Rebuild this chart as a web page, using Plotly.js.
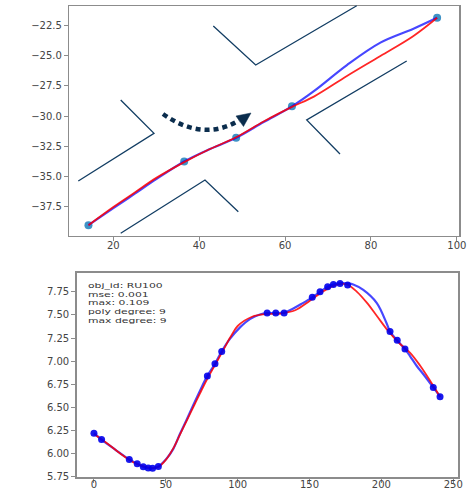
<!DOCTYPE html>
<html>
<head>
<meta charset="utf-8">
<script src="https://cdn.plot.ly/plotly-3.0.1.min.js"></script>
<style>html,body{margin:0;padding:0;background:#fff;}#chart{width:475px;height:490px;}</style>
</head>
<body>
<div id="chart"></div>
<script>
// ---- top panel data ----
const topPtsX = [14.2, 36.5, 48.6, 61.6, 95.4];
const topPtsY = [-39.0, -33.75, -31.8, -29.2, -21.9];
const topLineX = [14.2, 20, 25, 30, 36.5, 42, 48.6, 55, 61.6, 66.7, 74.4, 82.2, 89.9, 95.4];
const topBlueY = [-39.0, -37.6, -36.4, -35.2, -33.75, -32.8, -31.8, -30.5, -29.2, -27.95, -25.8, -23.95, -22.8, -21.9];
const topRedY  = [-39.0, -37.5, -36.3, -35.1, -33.8, -32.8, -31.75, -30.45, -29.25, -28.4, -26.7, -25.05, -23.4, -21.9];
const topXTicks = [20, 40, 60, 80, 100];
const topYTicks = [-37.5, -35.0, -32.5, -30.0, -27.5, -25.0, -22.5];

// ---- bottom panel data ----
const botPtsX = [0, 5.3, 24.6, 30.1, 34.3, 37.8, 40.8, 44.8, 78.9, 84.2, 88.9, 120.5, 126.5, 132.3, 151.9, 157.3, 162.6, 166.6, 171.2, 176.5, 206, 211, 216.4, 236.1, 240.8];
const botPtsY = [6.22, 6.15, 5.935, 5.89, 5.855, 5.843, 5.84, 5.86, 6.84, 6.97, 7.105, 7.52, 7.52, 7.52, 7.69, 7.75, 7.805, 7.83, 7.84, 7.825, 7.32, 7.225, 7.13, 6.715, 6.615];
const botBlueX = [0, 5.3, 15, 24.6, 30.1, 34.3, 37.8, 40.8, 44.8, 50.5, 55.2, 59.8, 64.5, 69, 73.8, 78.9, 84.2, 88.9, 94.6, 101.6, 108.5, 115.5, 120.5, 126.5, 132.3, 138.7, 145, 151.9, 157.3, 162.6, 166.6, 171.2, 176.5, 180.4, 187.4, 196.7, 203.6, 206, 211, 216.4, 219.9, 224.6, 229.2, 236.1, 240.8];
const botBlueY = [6.22, 6.15, 6.04, 5.935, 5.89, 5.855, 5.843, 5.84, 5.86, 5.944, 6.05, 6.21, 6.365, 6.52, 6.68, 6.84, 6.97, 7.105, 7.24, 7.365, 7.455, 7.505, 7.52, 7.52, 7.525, 7.57, 7.625, 7.69, 7.75, 7.805, 7.83, 7.845, 7.84, 7.83, 7.77, 7.63, 7.41, 7.32, 7.225, 7.13, 7.055, 6.947, 6.858, 6.715, 6.615];
const botRedX = [0, 10, 20, 30, 40, 45, 50, 55, 60, 65, 70, 75, 80, 85, 90, 95, 100, 110, 120, 130, 140, 150, 160, 170, 176, 183, 190, 197, 205, 212, 220, 227, 234, 241];
const botRedY = [6.21, 6.10, 5.98, 5.885, 5.845, 5.855, 5.93, 6.05, 6.21, 6.37, 6.53, 6.69, 6.84, 6.98, 7.12, 7.26, 7.38, 7.48, 7.51, 7.515, 7.55, 7.65, 7.76, 7.83, 7.83, 7.75, 7.63, 7.485, 7.32, 7.20, 7.09, 6.95, 6.785, 6.61];
const botXTicks = [0, 50, 100, 150, 200, 250];
const botYTicks = [5.75, 6.00, 6.25, 6.50, 6.75, 7.00, 7.25, 7.50, 7.75];
const infoLines = ["obj_id: RU100", "mse: 0.001", "max: 0.109", "poly degree: 9", "max degree: 9"];

const W = 475, H = 490;
const px = v => v / W;
const py = v => 1 - v / H;
const pt = (x, y) => px(x).toFixed(5) + ',' + py(y).toFixed(5);

const traces = [
  {x: topPtsX, y: topPtsY, xaxis: 'x', yaxis: 'y', mode: 'markers', type: 'scatter',
   marker: {color: '#2a86c0', size: 8, opacity: 0.9}},
  {x: topLineX, y: topBlueY, xaxis: 'x', yaxis: 'y', mode: 'lines', type: 'scatter',
   line: {color: 'rgba(0,0,255,0.72)', width: 2.2, shape: 'spline'}},
  {x: topLineX, y: topRedY, xaxis: 'x', yaxis: 'y', mode: 'lines', type: 'scatter',
   line: {color: 'rgba(255,0,0,0.85)', width: 1.8, shape: 'spline'}},
  {x: botBlueX, y: botBlueY, xaxis: 'x2', yaxis: 'y2', mode: 'lines', type: 'scatter',
   line: {color: 'rgba(0,0,255,0.72)', width: 2.2, shape: 'spline'}},
  {x: botRedX, y: botRedY, xaxis: 'x2', yaxis: 'y2', mode: 'lines', type: 'scatter',
   line: {color: 'rgba(255,0,0,0.85)', width: 1.8, shape: 'spline'}},
  {x: botPtsX, y: botPtsY, xaxis: 'x2', yaxis: 'y2', mode: 'markers', type: 'scatter',
   marker: {color: 'rgba(0,0,235,0.9)', size: 7}}
];

const tickFont = {family: 'DejaVu Sans', size: 10, color: '#444'};
const axBase = {showline: true, mirror: true, linecolor: '#8c8c8c', linewidth: 1.5,
  ticks: 'outside', ticklen: 4, tickcolor: '#8c8c8c', tickwidth: 1,
  showgrid: false, zeroline: false, tickfont: tickFont, automargin: false, fixedrange: true};

const navy = '#123d63';
const decoLines = [
  [[120.7,100],[154,133.3],[78.3,181]],
  [[120.7,233.3],[205,180],[238.3,211.7]],
  [[213.3,26],[255.7,65],[356.7,5.7]],
  [[406.7,61],[306.7,120],[340,154]]
];
const shapes = decoLines.map(l => ({
  type: 'path', xref: 'paper', yref: 'paper',
  path: 'M' + l.map(p => pt(p[0], p[1])).join(' L'),
  line: {color: navy, width: 1.3}
}));
shapes.push({type: 'path', xref: 'paper', yref: 'paper',
  path: 'M' + pt(163, 114) + ' Q' + pt(203, 142) + ' ' + pt(239, 120.5),
  line: {color: '#0b2d4d', width: 4.5, dash: '5px,4px'}});
shapes.push({type: 'path', xref: 'paper', yref: 'paper',
  path: 'M' + pt(251, 113) + ' L' + pt(236, 116) + ' L' + pt(243.5, 126.5) + ' Z',
  fillcolor: '#0b2d4d', line: {color: '#0b2d4d', width: 0.5}});

const infoFontSize = 10.8;
const annotations = [{
  text: infoLines.join('<br>'), xref: 'paper', yref: 'paper', x: px(85.5), y: py(280),
  xanchor: 'left', yanchor: 'top', align: 'left', showarrow: false,
  font: {family: 'DejaVu Sans', size: infoFontSize, color: '#333'}
}];

const layout = {
  width: W, height: H, margin: {l: 0, r: 0, t: 0, b: 0},
  paper_bgcolor: '#fff', plot_bgcolor: '#fff', showlegend: false,
  xaxis: Object.assign({}, axBase, {domain: [px(69.3), px(459)], range: [9.74, 100.5],
    anchor: 'y', tickvals: topXTicks, ticktext: topXTicks.map(String), ticklabelstandoff: -4}),
  yaxis: Object.assign({}, axBase, {domain: [py(235.5), py(6)], range: [-39.85, -20.93],
    anchor: 'x', tickvals: topYTicks, ticktext: topYTicks.map(v => (v < 0 ? '\u2212' : '') + Math.abs(v).toFixed(1))}),
  xaxis2: Object.assign({}, axBase, {domain: [px(76.7), px(458.3)], range: [-12, 253.5],
    anchor: 'y2', tickvals: botXTicks, ticktext: botXTicks.map(String), ticklabelstandoff: -7}),
  yaxis2: Object.assign({}, axBase, {domain: [py(477.3), py(272.7)], range: [5.742, 7.957],
    anchor: 'x2', tickvals: botYTicks, ticktext: botYTicks.map(v => v.toFixed(2))}),
  shapes: shapes,
  annotations: annotations
};

Plotly.newPlot('chart', traces, layout, {displayModeBar: false, staticPlot: true}).then(() => {
  // the reference's info block is vertically squashed: compress it the same way
  const s = 0.69;
  const gap = 8.8; // px between lines on screen
  document.querySelectorAll('.annotation-text').forEach(t => {
    t.querySelectorAll('tspan.line').forEach((sp, i) =>
      sp.setAttribute('dy', (i * gap / (infoFontSize * s)).toFixed(4) + 'em'));
    const r0 = t.getBoundingClientRect();
    const y0 = t.getBBox().y;
    const shift = 281 - r0.top;
    const prev = t.getAttribute('transform') || '';
    t.setAttribute('transform', (prev + ' translate(0,' + (y0 + shift) + ') scale(1,' + s + ') translate(0,' + (-y0) + ')').trim());
  });
});
</script>
</body>
</html>
